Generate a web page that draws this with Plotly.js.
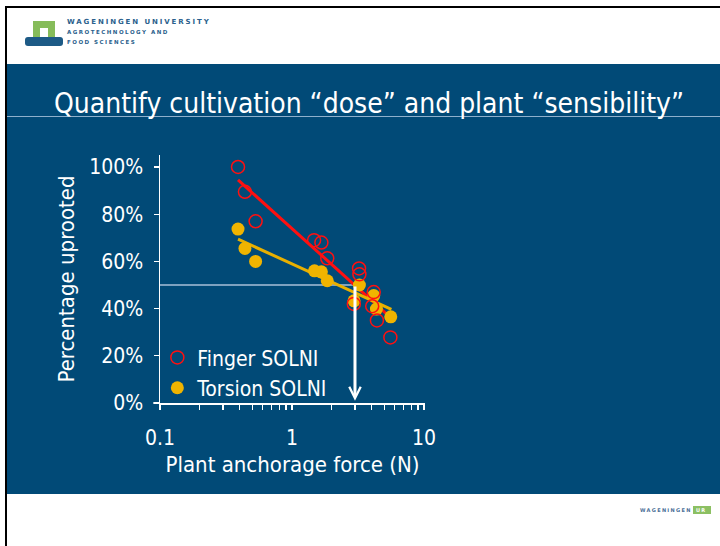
<!DOCTYPE html>
<html>
<head>
<meta charset="utf-8">
<script src="https://cdn.plot.ly/plotly-3.0.1.min.js"></script>
<style>
  html, body { margin:0; padding:0; background:#ffffff; }
  #slide { position:relative; width:720px; height:546px; overflow:hidden; background:#ffffff; }
  .abs { position:absolute; }
  #chart { position:absolute; left:0; top:0; width:720px; height:546px; }
  .hdr { font-family:"DejaVu Sans", sans-serif; font-weight:bold; color:#2b5f8c; white-space:nowrap; }
</style>
</head>
<body>
<div id="slide">
  <!-- frame -->
  <div class="abs" style="left:6px;top:6px;width:714px;height:2px;background:#000"></div>
  <div class="abs" style="left:5px;top:6px;width:2px;height:540px;background:#000"></div>
  <!-- blue panel -->
  <div class="abs" style="left:7px;top:64px;width:713px;height:430px;background:#014a77"></div>
  <div class="abs" style="left:7px;top:116px;width:713px;height:1px;background:#8fb0cc"></div>
  <!-- header logo -->
  <div class="abs" style="left:33px;top:21px;width:22px;height:17px;background:#86bc5a"></div>
  <div class="abs" style="left:40px;top:28px;width:8px;height:10px;background:#ffffff"></div>
  <div class="abs" style="left:25px;top:37px;width:38px;height:9px;background:#1d5a86;border-radius:3px"></div>
  <div class="abs hdr" style="left:67px;top:18px;font-size:7px;letter-spacing:1.9px;">WAGENINGEN UNIVERSITY</div>
  <div class="abs hdr" style="left:67px;top:29px;font-size:5.5px;letter-spacing:1.5px;">AGROTECHNOLOGY AND</div>
  <div class="abs hdr" style="left:67px;top:39px;font-size:5.5px;letter-spacing:1.5px;">FOOD SCIENCES</div>
  <!-- footer logo -->
  <div class="abs hdr" style="left:640px;top:507px;font-size:5px;letter-spacing:1.3px;color:#4a6f96;">WAGENINGEN</div>
  <div class="abs" style="left:693px;top:506px;width:18px;height:8px;background:#8cc063"></div>
  <div class="abs hdr" style="left:696px;top:507px;font-size:5px;letter-spacing:1.3px;color:#ffffff;">UR</div>
  <div id="chart"></div>
</div>
<script>
// ---- data ----
const fingerX = [0.39, 0.44, 0.53, 1.47, 1.67, 1.85, 3.22, 3.24, 2.94, 4.16, 4.05, 4.4, 5.56];
const fingerY = [100, 89.5, 77, 69, 68, 61.3, 57, 54.5, 42, 47, 41, 35, 27.8];
const torsionX = [0.39, 0.44, 0.53, 1.48, 1.67, 1.85, 3.24, 2.95, 4.16, 4.36, 5.6];
const torsionY = [73.7, 65.5, 60, 56, 55.6, 51.8, 50, 43.3, 45.5, 39.8, 36.5];
const fingerFitX = [0.39, 5.56];
const fingerFitY = [94.5, 36.3];
const torsionFitX = [0.39, 5.66];
const torsionFitY = [69.4, 39.7];
const guideX = [0.1, 3];
const guideY = [50, 50];
const arrowX = 3;
const arrowFromY = 50;
const arrowToY = 1;
const xTickVals = [0.1,0.2,0.3,0.4,0.5,0.6,0.7,0.8,0.9,1,2,3,4,5,6,7,8,9,10];
const xTickText = ['0.1','','','','','','','','','1','','','','','','','','','10'];
const yTickVals = [0, 20, 40, 60, 80, 100];
const yTickText = ['0%', '20%', '40%', '60%', '80%', '100%'];
const seriesNames = ['Finger SOLNI', 'Torsion SOLNI'];

const FONT = '"Liberation Sans Narrow", "DejaVu Sans Condensed", "Liberation Sans", sans-serif';
const RED = '#ff1010';
const GOLD = '#f0b400';

const traces = [
  { x: guideX, y: guideY, mode: 'lines', line: {color: '#a8c0d8', width: 1.5}, showlegend: false, hoverinfo: 'skip' },
  { x: fingerFitX, y: fingerFitY, mode: 'lines', line: {color: RED, width: 3}, showlegend: false },
  { x: torsionFitX, y: torsionFitY, mode: 'lines', line: {color: '#e8b000', width: 3}, showlegend: false },
  { x: torsionX, y: torsionY, mode: 'markers', name: seriesNames[1],
    marker: {symbol: 'circle', size: 13, color: GOLD, line: {width: 0}}, legendrank: 2 },
  { x: fingerX, y: fingerY, mode: 'markers', name: seriesNames[0],
    marker: {symbol: 'circle-open', size: 13, color: RED, line: {width: 1.5, color: RED}}, legendrank: 1 }
];

const layout = {
  width: 720, height: 546,
  paper_bgcolor: 'rgba(0,0,0,0)', plot_bgcolor: 'rgba(0,0,0,0)',
  margin: {l: 160, r: 295, t: 155, b: 143, pad: 0},
  font: {family: FONT, color: '#ffffff', size: 21},
  title: { text: 'Quantify cultivation “dose” and plant “sensibility”',
    font: {family: FONT, size: 28, color: '#ffffff'},
    x: 0.5125, xref: 'container', xanchor: 'center',
    y: 1 - 103/546, yref: 'container', yanchor: 'middle' },
  xaxis: {
    type: 'log', range: [-1, 1.0075], showgrid: false, zeroline: false,
    showline: true, linecolor: '#ffffff', linewidth: 1.5,
    ticks: 'outside', ticklen: 5, tickwidth: 1.2, tickcolor: '#ffffff',
    tickmode: 'array', tickvals: xTickVals, ticktext: xTickText,
    ticklabelstandoff: 10,
    tickfont: {family: FONT, size: 21, color: '#ffffff'},
    title: {text: 'Plant anchorage force (N)', font: {family: FONT, size: 22, color: '#ffffff'}, standoff: 8}
  },
  yaxis: {
    range: [0, 105.08], showgrid: false, zeroline: false,
    showline: true, linecolor: '#ffffff', linewidth: 1.5,
    ticks: 'outside', ticklen: 5, tickwidth: 1.2, tickcolor: '#ffffff',
    tickmode: 'array', tickvals: yTickVals, ticktext: yTickText,
    ticklabelstandoff: 6,
    tickfont: {family: FONT, size: 21, color: '#ffffff'},
    title: {text: 'Percentage uprooted', font: {family: FONT, size: 22, color: '#ffffff'}, standoff: 8}
  },
  legend: {
    x: -0.01, y: 0.265, xanchor: 'left', yanchor: 'top',
    bgcolor: 'rgba(0,0,0,0)', borderwidth: 0,
    font: {family: FONT, size: 21, color: '#ffffff'},
    itemwidth: 30, tracegroupgap: 0
  },
  shapes: [
    {type: 'line', xref: 'paper', yref: 'paper', x0: -0.026, x1: 0, y0: 0, y1: 0, line: {color: '#ffffff', width: 1.5}},
    {type: 'line', xref: 'paper', yref: 'paper', x0: 0, x1: 0, y0: 0, y1: -0.02, line: {color: '#ffffff', width: 1.5}}
  ],
  annotations: [
    { x: Math.log10(arrowX), y: arrowToY, xref: 'x', yref: 'y',
      ax: Math.log10(arrowX), ay: arrowFromY, axref: 'x', ayref: 'y',
      showarrow: true, arrowhead: 5, arrowsize: 0.75, arrowwidth: 3, arrowcolor: '#ffffff', text: '' }
  ],
  showlegend: true
};

Plotly.newPlot('chart', traces, layout, {displayModeBar: false, staticPlot: true});
</script>
</body>
</html>
